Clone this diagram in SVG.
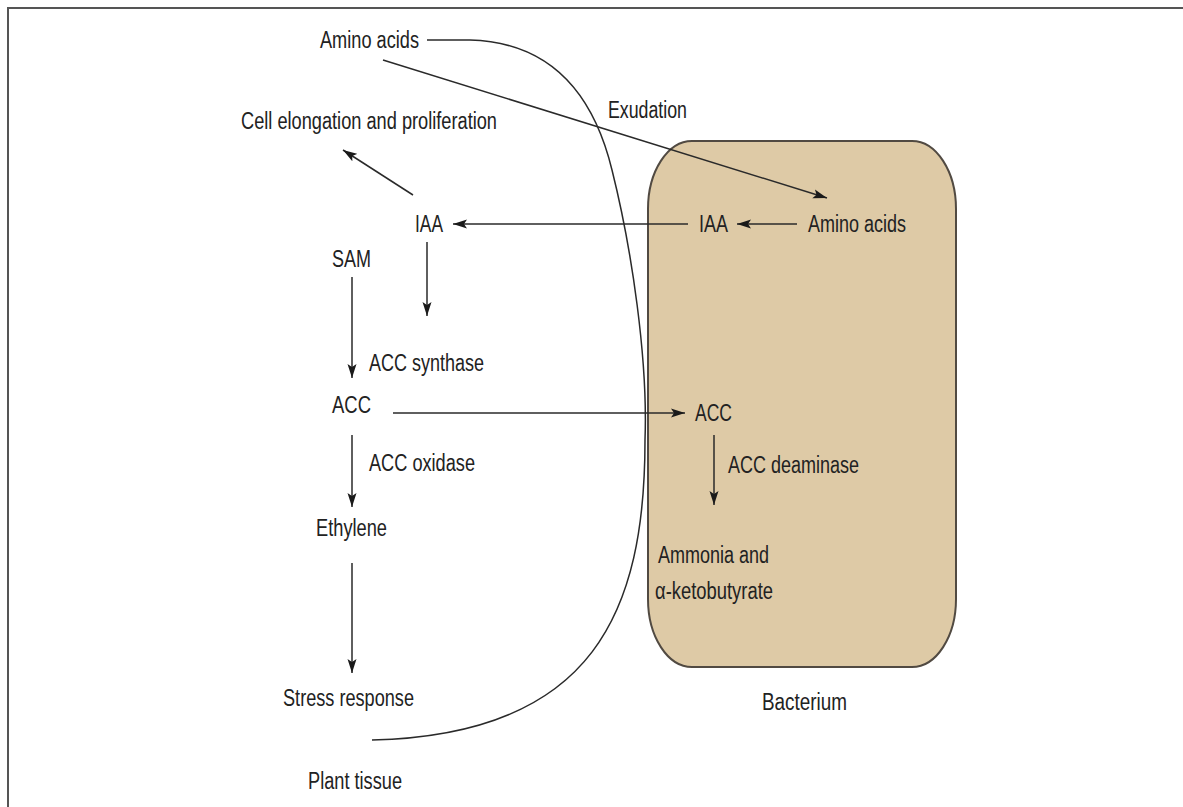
<svg xmlns="http://www.w3.org/2000/svg" width="1183" height="807" viewBox="0 0 1183 807">
<style>
text{font-family:"Liberation Sans",Arial,sans-serif;font-size:23px;fill:#222}
.ln{stroke:#2a2a2a;stroke-width:1.5;fill:none}
</style>
<defs>
<marker id="ah" markerUnits="userSpaceOnUse" markerWidth="16" markerHeight="10" refX="14" refY="5" orient="auto">
<path d="M0,0.5 L14,5 L0,9.5 L3,5 z" fill="#1a1a1a"/>
</marker>
</defs>
<rect width="1183" height="807" fill="#fff"/>
<g id="frame"><path d="M8,807 V8 H1183" fill="none" stroke="#555" stroke-width="2"/></g>
<g id="bacterium"><rect x="648" y="141" width="308" height="526" rx="44" ry="68" fill="#decaa6" stroke="#514a42" stroke-width="2"/></g>
<g id="plant-tissue-boundary"><path class="ln" d="M427,40 H470 C540,42 590,80 612,170 C632,250 648,360 645,440 C645,610 595,735 372,740"/></g>
<g id="connectors">
<line class="ln" x1="383" y1="60" x2="827" y2="198" marker-end="url(#ah)"/>
<line class="ln" x1="413" y1="195" x2="343" y2="150" marker-end="url(#ah)"/>
<line class="ln" x1="688" y1="224" x2="453" y2="224" marker-end="url(#ah)"/>
<line class="ln" x1="797" y1="224" x2="737" y2="224" marker-end="url(#ah)"/>
<line class="ln" x1="427" y1="242" x2="427" y2="316" marker-end="url(#ah)"/>
<line class="ln" x1="352" y1="277" x2="352" y2="378" marker-end="url(#ah)"/>
<line class="ln" x1="393" y1="413" x2="685" y2="413" marker-end="url(#ah)"/>
<line class="ln" x1="352" y1="435" x2="352" y2="507" marker-end="url(#ah)"/>
<line class="ln" x1="352" y1="563" x2="352" y2="673" marker-end="url(#ah)"/>
<line class="ln" x1="714" y1="435" x2="714" y2="505" marker-end="url(#ah)"/>
</g>
<g id="amino-acids-plant"><text x="320" y="48" textLength="99" lengthAdjust="spacingAndGlyphs">Amino acids</text></g>
<g id="cell-elongation"><text x="241" y="129" textLength="256" lengthAdjust="spacingAndGlyphs">Cell elongation and proliferation</text></g>
<g id="exudation"><text x="608" y="118" textLength="79" lengthAdjust="spacingAndGlyphs">Exudation</text></g>
<g id="iaa-plant"><text x="415" y="232" textLength="28" lengthAdjust="spacingAndGlyphs">IAA</text></g>
<g id="iaa-bacterium"><text x="699" y="232" textLength="29" lengthAdjust="spacingAndGlyphs">IAA</text></g>
<g id="amino-acids-bacterium"><text x="808" y="232" textLength="98" lengthAdjust="spacingAndGlyphs">Amino acids</text></g>
<g id="sam"><text x="332" y="267" textLength="39" lengthAdjust="spacingAndGlyphs">SAM</text></g>
<g id="acc-synthase"><text x="369" y="371" textLength="115" lengthAdjust="spacingAndGlyphs">ACC synthase</text></g>
<g id="acc-plant"><text x="332" y="413" textLength="39" lengthAdjust="spacingAndGlyphs">ACC</text></g>
<g id="acc-bacterium"><text x="695" y="421" textLength="37" lengthAdjust="spacingAndGlyphs">ACC</text></g>
<g id="acc-oxidase"><text x="369" y="471" textLength="106" lengthAdjust="spacingAndGlyphs">ACC oxidase</text></g>
<g id="acc-deaminase"><text x="728" y="473" textLength="131" lengthAdjust="spacingAndGlyphs">ACC deaminase</text></g>
<g id="ethylene"><text x="316" y="536" textLength="71" lengthAdjust="spacingAndGlyphs">Ethylene</text></g>
<g id="ammonia"><text x="658" y="563" textLength="111" lengthAdjust="spacingAndGlyphs">Ammonia and</text>
<text x="655" y="599" textLength="118" lengthAdjust="spacingAndGlyphs">α-ketobutyrate</text></g>
<g id="stress-response"><text x="283" y="706" textLength="131" lengthAdjust="spacingAndGlyphs">Stress response</text></g>
<g id="bacterium-label"><text x="762" y="710" textLength="85" lengthAdjust="spacingAndGlyphs">Bacterium</text></g>
<g id="plant-tissue"><text x="308" y="789" textLength="94" lengthAdjust="spacingAndGlyphs">Plant tissue</text></g>
</svg>
